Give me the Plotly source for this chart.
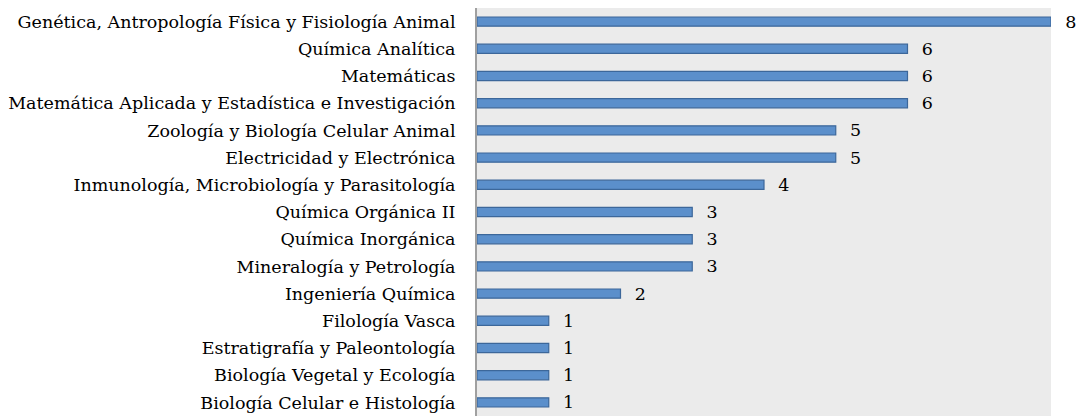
import plotly.graph_objects as go

categories = [
    "Genética, Antropología Física y Fisiología Animal",
    "Química Analítica",
    "Matemáticas",
    "Matemática Aplicada y Estadística e Investigación",
    "Zoología y Biología Celular Animal",
    "Electricidad y Electrónica",
    "Inmunología, Microbiología y Parasitología",
    "Química Orgánica II",
    "Química Inorgánica",
    "Mineralogía y Petrología",
    "Ingeniería Química",
    "Filología Vasca",
    "Estratigrafía y Paleontología",
    "Biología Vegetal y Ecología",
    "Biología Celular e Histología",
]
values = [8, 6, 6, 6, 5, 5, 4, 3, 3, 3, 2, 1, 1, 1, 1]

FONT = "DejaVu Serif"

fig = go.Figure(go.Bar(
    y=categories,
    x=values,
    orientation="h",
    width=0.34,
    marker=dict(color="#5b8fcb", line=dict(color="#3c679a", width=1.2)),
    texttemplate="  %{x}",
    textposition="outside",
    constraintext="none",
    textfont=dict(family=FONT, size=17.5, color="#000000"),
    cliponaxis=False,
))

fig.update_layout(
    width=1071, height=408,
    margin=dict(l=469, r=28, t=0, b=0),
    paper_bgcolor="white",
    plot_bgcolor="#ebebeb",
    showlegend=False,
    font=dict(family=FONT, size=17.5, color="#000000"),
    xaxis=dict(range=[0, 8], showgrid=False, zeroline=False, showticklabels=False,
               showline=False, fixedrange=True),
    yaxis=dict(autorange="reversed", showline=True, linecolor="#a0a0a0", linewidth=2,
               ticks="", ticklabelstandoff=16, showgrid=False,
               tickfont=dict(family=FONT, size=17.5)),
)

fig.write_html("out.html")
